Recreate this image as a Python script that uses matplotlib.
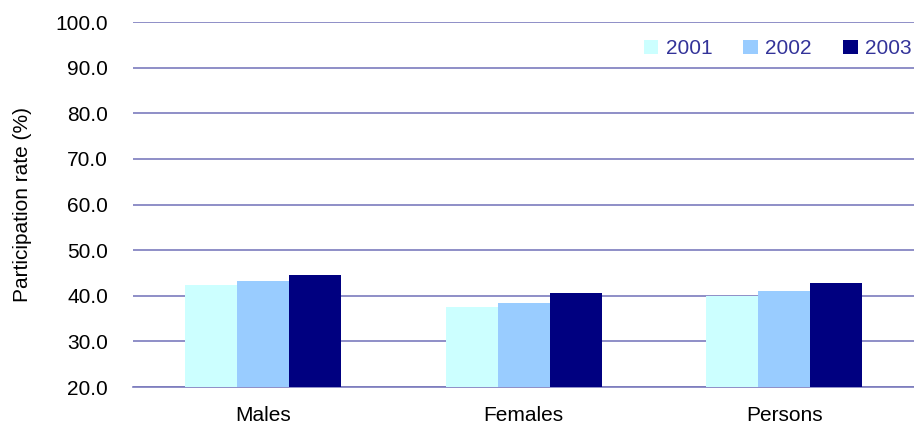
import numpy as np
import matplotlib.pyplot as plt

plt.rcParams['font.family'] = ['Liberation Sans', 'DejaVu Sans']

# participation rate by sex and year
categories = ['Males', 'Females', 'Persons']
years = ['2001', '2002', '2003']
rate_2001 = [42.4, 37.5, 39.9]
rate_2002 = [43.2, 38.4, 41.1]
rate_2003 = [44.6, 40.6, 42.8]
yticks = [20, 30, 40, 50, 60, 70, 80, 90, 100]

colors = ['#ccffff', '#99ccff', '#000080']
grid_color = '#7b7bbd'
fs = 15

fig = plt.figure(figsize=(9.14, 4.25), dpi=100)
ax = fig.add_axes([0.1455, 0.0894, 0.855, 0.8588])

x = np.arange(len(categories))
width = 0.2
for i, (vals, yr) in enumerate(zip([rate_2001, rate_2002, rate_2003], years)):
    ax.bar(x + (i - 1) * width, vals, width, color=colors[i], label=yr,
           zorder=3, linewidth=0)

ax.set_xlim(-0.5, 2.5)
ax.set_ylim(20, 100)
ax.set_yticks(yticks)
ax.set_yticklabels([f'{v:.1f}' for v in yticks], fontsize=fs)
ax.set_xticks(x)
ax.set_xticklabels(categories, fontsize=fs)
ax.tick_params(axis='y', length=0, pad=18)
ax.tick_params(axis='x', length=0, pad=14)

ax.grid(axis='y', color=grid_color, linewidth=1.2, zorder=0)
for side in ['left', 'right', 'top']:
    ax.spines[side].set_visible(False)
ax.spines['bottom'].set_color(grid_color)
ax.spines['bottom'].set_linewidth(1.2)

ax.set_ylabel('Participation rate (%)', fontsize=fs, labelpad=17)

leg = ax.legend(loc='upper right', ncol=3, frameon=False, fontsize=fs,
                handlelength=0.7, handleheight=0.7, handletextpad=0.35,
                columnspacing=1.5, bbox_to_anchor=(1.007, 0.975),
                borderaxespad=0)
for t in leg.get_texts():
    t.set_color('#333399')

fig.savefig('out.png', dpi=100)
